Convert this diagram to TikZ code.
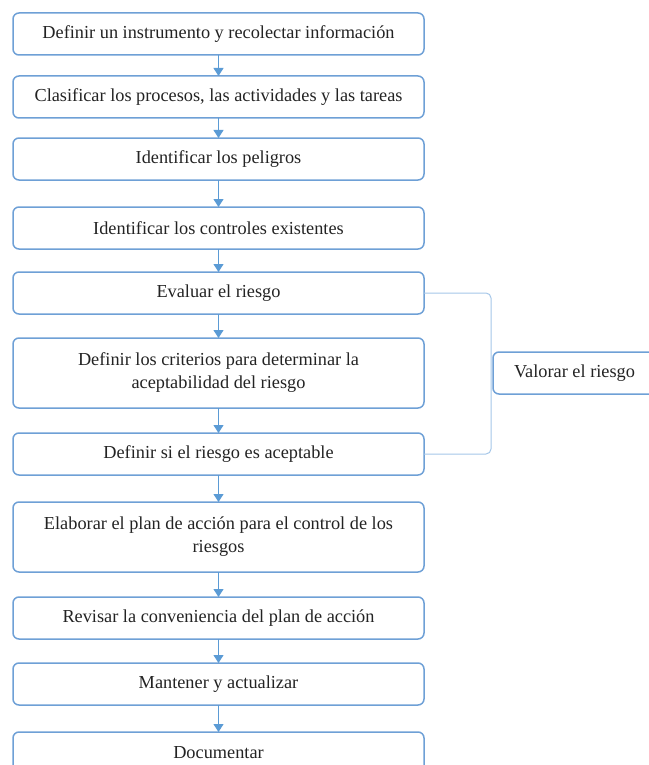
\documentclass[tikz,border=0pt]{standalone}
\usepackage{fontspec}
\setmainfont{Liberation Serif}
\usetikzlibrary{positioning,arrows.meta}
\definecolor{boxblue}{RGB}{110,160,214}
\definecolor{arrowblue}{RGB}{91,155,213}
\definecolor{bracketblue}{RGB}{165,198,232}
\definecolor{textgray}{RGB}{35,35,35}

\begin{document}
\begin{tikzpicture}[%
		x=1pt,
		y=1pt,
		etapa/.style={%
			minimum width=411pt,
			minimum height=42pt,
			inner sep=0pt,
			outer sep=0pt,
			rounded corners=6pt,
			line width=1.5pt,
			draw=boxblue,
			text=textgray,
			align=center,
			font=\fontsize{18.3}{23}\selectfont
		},
		doble/.style={etapa, minimum height=70pt},
		flecha/.style={-{Triangle[width=10pt,length=8pt]}, color=arrowblue, line width=1.1pt},
		corchete/.style={-, draw=bracketblue, line width=1pt, rounded corners=5pt}
		]
		\useasboundingbox (0,0) rectangle (648,-765);
		
		\node[etapa] (1) at (218.5,-34)                      {Definir un instrumento y recolectar información};
		\node[etapa] (2) [below=21pt of 1]                   {Clasificar los procesos, las actividades y las tareas};
		\node[etapa] (3) [below=20pt of 2]                   {Identificar los peligros};
		\node[etapa] (4) [below=27pt of 3]                   {Identificar los controles existentes};
		\node[etapa] (5) [below=23pt of 4]                   {Evaluar el riesgo};
		\node[doble] (6) [below=24pt of 5]                   {Definir los criterios para determinar la\\aceptabilidad del riesgo};
		\node[etapa] (7) [below=25pt of 6]                   {Definir si el riesgo es aceptable};
		\node[doble] (8) [below=27pt of 7]                   {Elaborar el plan de acción para el control de los\\riesgos};
		\node[etapa] (9) [below=25pt of 8]                   {Revisar la conveniencia del plan de acción};
		\node[etapa] (10) [below=24pt of 9]                  {Mantener y actualizar};
		\node[etapa] (11) [below=27pt of 10]                 {Documentar};
		
		\node[etapa, minimum width=163pt] (v) [right=69pt of 6] {Valorar el riesgo};
		
		\path[flecha] (1) edge (2)
		(2) edge (3)
		(3) edge (4)
		(4) edge (5)
		(5) edge (6)
		(6) edge (7)
		(7) edge (8)
		(8) edge (9)
		(9) edge (10)
		(10) edge (11);
		
		\draw[corchete] (5.east) -| ([xshift=-2pt]v.west) |- (7.east);
		\end{tikzpicture}
\end{document}
